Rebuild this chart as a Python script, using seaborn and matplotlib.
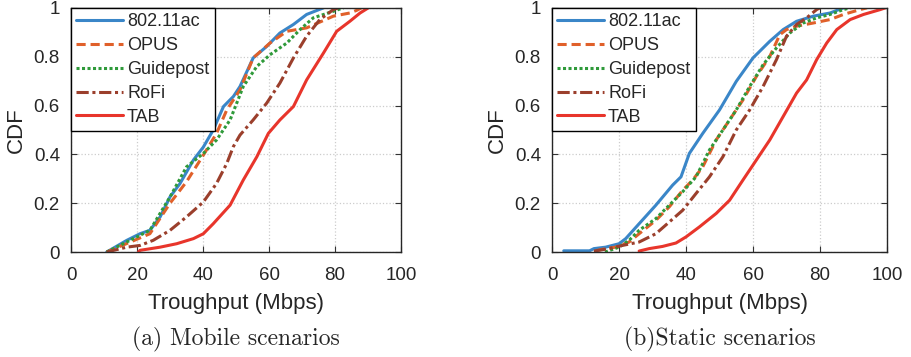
import numpy as np
import pandas as pd
import matplotlib
matplotlib.use("Agg")
import matplotlib.pyplot as plt
import seaborn as sns

# CDF levels and throughput readings (Mbps)
methods = ["802.11ac", "OPUS", "Guidepost", "RoFi", "TAB"]

# (a) mobile scenarios
mob_ac_x = [10.8, 16.9, 20.9, 23.9, 27.0, 30.0, 33.0, 37.1, 40.1, 43.1, 46.2, 49.2, 51.2, 55.2, 59.3, 63.3, 67.4, 71.4, 76.5]
mob_ac_y = [0.0, 0.048, 0.075, 0.089, 0.144, 0.226, 0.28, 0.377, 0.43, 0.5, 0.596, 0.637, 0.678, 0.795, 0.842, 0.897, 0.932, 0.973, 1.0]
mob_opus_x = [10.8, 23.9, 30.0, 35.0, 40.1, 44.1, 47.2, 51.2, 55.2, 60.3, 65.4, 71.4, 79.5, 84.5, 86.6, 88.0]
mob_opus_y = [0.0, 0.075, 0.2, 0.288, 0.397, 0.486, 0.582, 0.664, 0.795, 0.856, 0.904, 0.918, 0.966, 0.979, 0.99, 1.0]
mob_guide_x = [10.8, 23.9, 30.0, 35.0, 40.1, 44.1, 48.2, 52.2, 56.3, 60.3, 65.4, 69.4, 73.4, 79.5, 82.5]
mob_guide_y = [0.0, 0.089, 0.226, 0.349, 0.404, 0.459, 0.541, 0.678, 0.76, 0.808, 0.856, 0.911, 0.959, 0.986, 1.0]
mob_rofi_x = [10.8, 16.9, 20.9, 24.9, 30.0, 35.0, 40.1, 44.1, 47.2, 49.2, 51.2, 55.2, 59.3, 63.3, 67.4, 71.4, 75.4, 79.5, 81.0]
mob_rofi_y = [0.0, 0.02, 0.027, 0.048, 0.089, 0.144, 0.205, 0.281, 0.363, 0.432, 0.479, 0.541, 0.61, 0.692, 0.795, 0.884, 0.952, 0.993, 1.0]
mob_tab_x = [20.4, 20.9, 27.0, 32.0, 37.1, 40.1, 43.1, 48.2, 52.2, 56.3, 58.3, 59.8, 63.3, 67.4, 71.4, 76.5, 80.5, 84.5, 87.6, 90.1]
mob_tab_y = [0.0, 0.007, 0.02, 0.034, 0.055, 0.075, 0.116, 0.192, 0.295, 0.39, 0.445, 0.486, 0.541, 0.596, 0.705, 0.815, 0.904, 0.945, 0.979, 1.0]

# (b) static scenarios
sta_ac_x = [3.5, 11.2, 12.5, 16.0, 20.0, 22.0, 26.0, 31.0, 36.0, 38.5, 41.0, 45.0, 50.0, 55.0, 60.0, 65.0, 69.0, 73.0, 78.0, 83.0, 87.0]
sta_ac_y = [0.005, 0.005, 0.014, 0.02, 0.034, 0.055, 0.116, 0.192, 0.274, 0.308, 0.404, 0.486, 0.582, 0.699, 0.795, 0.863, 0.911, 0.945, 0.966, 0.979, 1.0]
sta_opus_x = [13.0, 16.0, 19.0, 23.0, 26.0, 31.0, 35.0, 39.0, 42.0, 45.0, 49.0, 53.0, 57.0, 61.0, 65.0, 68.0, 70.0, 73.0, 78.0, 83.0, 87.0, 92.0, 94.0]
sta_opus_y = [0.005, 0.014, 0.02, 0.041, 0.075, 0.13, 0.185, 0.253, 0.295, 0.349, 0.459, 0.541, 0.623, 0.719, 0.801, 0.89, 0.911, 0.925, 0.938, 0.952, 0.973, 0.993, 1.0]
sta_guide_x = [15.8, 20.0, 23.0, 26.0, 31.0, 35.0, 39.0, 43.0, 47.0, 51.0, 55.0, 59.0, 63.0, 67.0, 71.0, 75.0, 79.0, 83.0, 87.0, 89.0]
sta_guide_y = [0.0, 0.02, 0.048, 0.089, 0.137, 0.192, 0.247, 0.308, 0.418, 0.5, 0.582, 0.678, 0.767, 0.836, 0.897, 0.938, 0.959, 0.973, 0.993, 1.0]
sta_rofi_x = [12.5, 17.0, 21.0, 26.0, 31.0, 35.0, 39.0, 43.0, 47.0, 51.0, 55.0, 59.0, 63.0, 67.0, 70.0, 73.0, 76.0, 79.0, 80.0]
sta_rofi_y = [0.004, 0.014, 0.027, 0.041, 0.075, 0.123, 0.171, 0.24, 0.308, 0.39, 0.5, 0.582, 0.678, 0.788, 0.884, 0.932, 0.959, 0.993, 1.0]
sta_tab_x = [26.0, 29.0, 33.0, 37.0, 40.0, 44.0, 49.0, 53.0, 57.0, 61.0, 65.0, 69.0, 73.0, 76.0, 79.0, 82.0, 85.0, 89.0, 93.0, 98.0, 99.5]
sta_tab_y = [0.004, 0.014, 0.023, 0.037, 0.062, 0.103, 0.158, 0.212, 0.295, 0.377, 0.459, 0.555, 0.651, 0.705, 0.788, 0.856, 0.911, 0.952, 0.973, 0.993, 1.0]

captions = ["(a) Mobile scenarios", "(b)Static scenarios"]

colors = ["#3a86c8", "#e0602a", "#2f9a3a", "#9b3f2c", "#e8352b"]
styles = ["-", (0, (3, 1.6)), (0, (1, 0.8)), (0, (4, 1.2, 1, 1.2)), "-"]

sns.set_style("ticks")
plt.rcParams['font.family'] = ['Liberation Sans', 'DejaVu Sans']

fig = plt.figure(figsize=(9.12, 3.57), dpi=100)
ax_a = fig.add_axes([0.0779, 0.294, 0.3618, 0.684])
ax_b = fig.add_axes([0.6053, 0.294, 0.3673, 0.684])

panels = [
    (ax_a, [(mob_ac_x, mob_ac_y), (mob_opus_x, mob_opus_y), (mob_guide_x, mob_guide_y),
            (mob_rofi_x, mob_rofi_y), (mob_tab_x, mob_tab_y)]),
    (ax_b, [(sta_ac_x, sta_ac_y), (sta_opus_x, sta_opus_y), (sta_guide_x, sta_guide_y),
            (sta_rofi_x, sta_rofi_y), (sta_tab_x, sta_tab_y)]),
]

for (ax, series), caption in zip(panels, captions):
    for name, (xs, ys), c, ls in zip(methods, series, colors, styles):
        sns.lineplot(x=xs, y=ys, ax=ax, color=c, linestyle=ls, linewidth=2.2,
                     sort=False, estimator=None, label=name)
    ax.set_xlim(0, 100)
    ax.set_ylim(0, 1)
    ax.set_xticks([0, 20, 40, 60, 80, 100])
    ax.set_yticks([0, 0.2, 0.4, 0.6, 0.8, 1])
    ax.set_yticklabels(["0", "0.2", "0.4", "0.6", "0.8", "1"])
    ax.grid(True, linestyle=":", color="#cccccc", linewidth=0.9)
    ax.tick_params(direction="in", top=True, right=True, labelsize=13.5, length=4,
                   color="#333333", pad=8)
    ax.tick_params(axis="x", pad=11)
    for s in ax.spines.values():
        s.set_color("#262626")
        s.set_linewidth(1.0)
    ax.set_xlabel("Troughput (Mbps)", fontsize=16, labelpad=6)
    ax.set_ylabel("CDF", fontsize=16, labelpad=5)
    leg = ax.legend(loc="upper left", borderaxespad=0, fontsize=13, frameon=True, fancybox=False,
                    handlelength=2.6, handletextpad=0.2, labelspacing=0.38, borderpad=0.3)
    leg.get_frame().set_edgecolor("black")
    leg.get_frame().set_linewidth(1.0)
    leg.get_frame().set_alpha(1)
    ax.text(0.5, -0.36, caption, transform=ax.transAxes, ha="center", va="center",
            fontsize=17, family=["cmr10", "DejaVu Serif"])

fig.savefig("out.png", dpi=100)
